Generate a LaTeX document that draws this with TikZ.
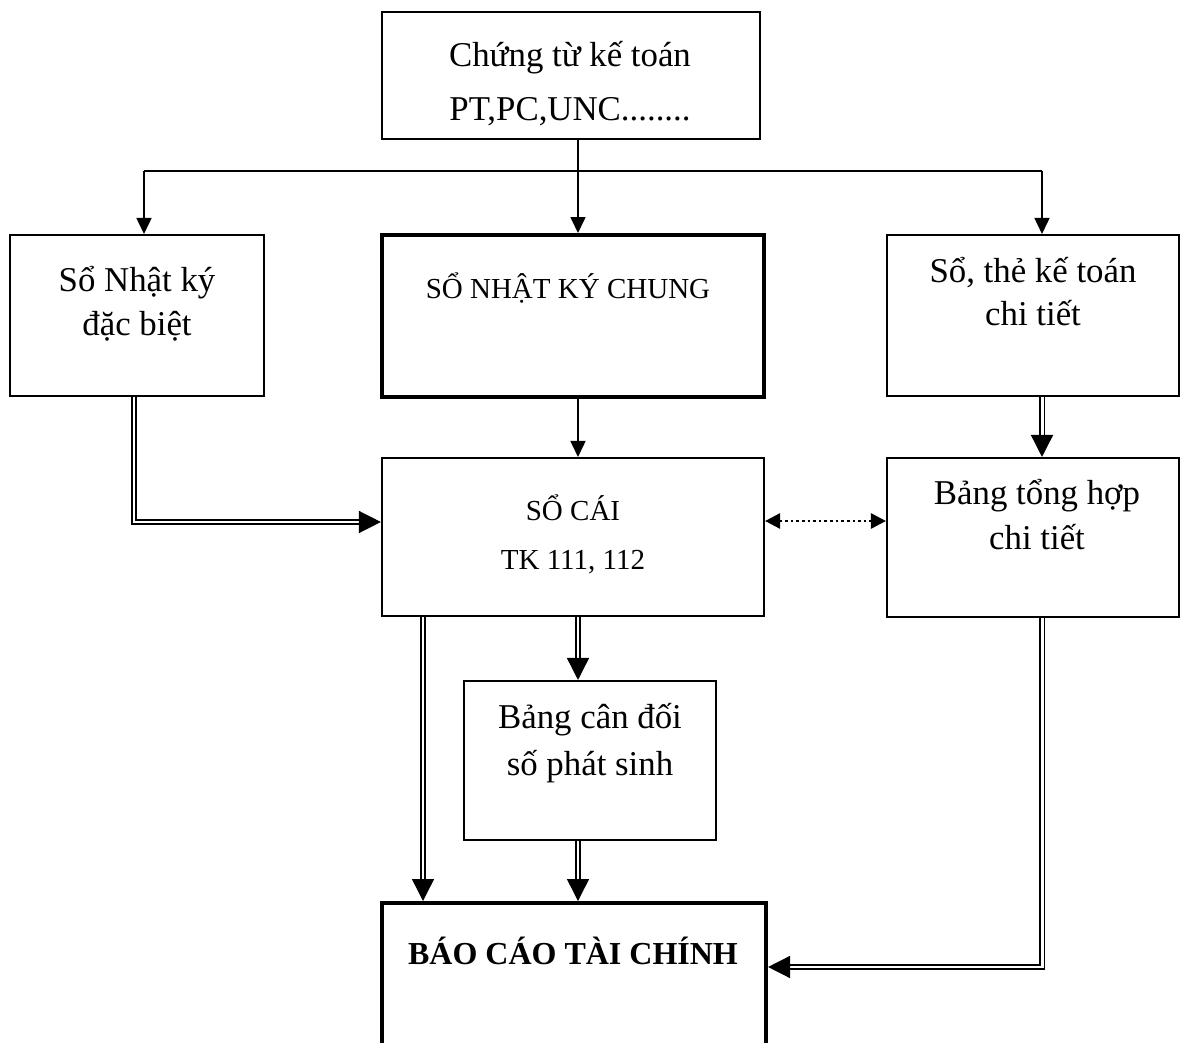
\documentclass[tikz,border=0pt]{standalone}
\usepackage{fontspec}
\setmainfont{Liberation Serif}
\usetikzlibrary{arrows.meta,calc}

\begin{document}
\begin{tikzpicture}[x=0.01cm, y=-0.01cm,
  box/.style={draw, line width=0.55pt, rectangle, inner sep=0pt},
  thickbox/.style={draw, line width=1.1pt, rectangle, inner sep=0pt},
  txt/.style={inner sep=0pt, align=center, font=\fontsize{9.9pt}{12pt}\selectfont},
  small/.style={inner sep=0pt, align=center, font=\fontsize{8.25pt}{10pt}\selectfont},
  conn/.style={line width=0.45pt},
  sarr/.style={line width=0.45pt, -{Triangle[length=0.16cm,width=0.15cm]}},
  dbl/.style={double, double distance=0.85pt, line width=0.45pt},
  dtip/.style={line width=0.4pt, -{Triangle[length=0.22cm,width=0.22cm]}},
  dotarr/.style={line width=0.75pt, dash pattern=on 0.75pt off 0.85pt, {Triangle[length=0.15cm,width=0.15cm]}-{Triangle[length=0.15cm,width=0.15cm]}}
]
\clip (0,0) rectangle (1181,1043);
\useasboundingbox (0,0) rectangle (1181,1043);

% boxes
\node[box, minimum width=3.78cm, minimum height=1.27cm] (ctu) at (571,75.5) {};
\node[box, minimum width=2.54cm, minimum height=1.61cm] (nkdb) at (137,315.5) {};
\node[thickbox, minimum width=3.82cm, minimum height=1.62cm] (nkc) at (573,316) {};
\node[box, minimum width=2.92cm, minimum height=1.61cm] (sct) at (1033,315.5) {};
\node[box, minimum width=3.82cm, minimum height=1.58cm] (socai) at (573,537) {};
\node[box, minimum width=2.92cm, minimum height=1.59cm] (bth) at (1033,537.5) {};
\node[box, minimum width=2.52cm, minimum height=1.59cm] (bcd) at (590,760.5) {};
\node[thickbox, minimum width=3.84cm, minimum height=1.60cm] (bctc) at (574,983) {};

% texts
\node[txt] (t1) at (570,58) {Chứng từ kế toán};
\node[txt] (t2) at (570,112) {PT,PC,UNC........};
\node[txt] (t3) at (137,283) {Sổ Nhật ký};
\node[txt] (t4) at (137,326) {đặc biệt};
\node[small] (t5) at (568,288) {SỔ NHẬT KÝ CHUNG};
\node[txt] (t6) at (1033,273) {Sổ, thẻ kế toán};
\node[txt] (t7) at (1033,313) {chi tiết};
\node[small] (t8) at (573,508) {SỔ CÁI};
\node[small] (t9) at (573,562) {TK 111, 112};
\node[txt] (t10) at (1037,496) {Bảng tổng hợp};
\node[txt] (t11) at (1037,537) {chi tiết};
\node[txt] (t12) at (590,720) {Bảng cân đối};
\node[txt] (t13) at (590,767) {số phát sinh};
\node[inner sep=0pt, font=\fontsize{9.1pt}{11pt}\selectfont\bfseries] (t14) at (573,951) {BÁO CÁO TÀI CHÍNH};

% distribution from the source documents
\coordinate (hm) at (578,171);
\coordinate (hl) at (144,171);
\coordinate (hr) at (1042,171);
\draw[conn] (ctu.south -| hm) -- (hm);
\draw[conn] (hl) -- (hr);
\draw[sarr] (hl) -- (hl |- nkdb.north);
\draw[sarr] (hm) -- (hm |- nkc.north);
\draw[sarr] (hr) -- (hr |- sct.north);

% journal to ledger
\draw[sarr] (nkc.south -| hm) -- (socai.north -| hm);

% special journal to ledger (double line)
\coordinate (lcorner) at (134,522);
\draw[dbl] (nkdb.south -| lcorner) -- (lcorner) -- ($(lcorner -| socai.west)+(-18,0)$);
\draw[dtip] ($(lcorner -| socai.west)+(-20,0)$) -- (lcorner -| socai.west);

% detailed books to summary
\coordinate (rx) at (1042,0);
\draw[dbl] (sct.south -| rx) -- ($(bth.north -| rx)+(0,-18)$);
\draw[dtip] ($(bth.north -| rx)+(0,-20)$) -- (bth.north -| rx);

% reconciliation ledger <-> summary
\coordinate (my) at (0,521);
\draw[dotarr] (socai.east |- my) -- (bth.west |- my);

% ledger to trial balance
\draw[dbl] (socai.south -| hm) -- ($(bcd.north -| hm)+(0,-18)$);
\draw[dtip] ($(bcd.north -| hm)+(0,-20)$) -- (bcd.north -| hm);

% ledger to financial statements
\coordinate (lx) at (423,0);
\draw[dbl] (socai.south -| lx) -- ($(bctc.north -| lx)+(0,-18)$);
\draw[dtip] ($(bctc.north -| lx)+(0,-20)$) -- (bctc.north -| lx);

% trial balance to financial statements
\draw[dbl] (bcd.south -| hm) -- ($(bctc.north -| hm)+(0,-18)$);
\draw[dtip] ($(bctc.north -| hm)+(0,-20)$) -- (bctc.north -| hm);

% summary to financial statements
\coordinate (rcorner) at (1042,967);
\draw[dbl] (bth.south -| rcorner) -- (rcorner) -- ($(rcorner -| bctc.east)+(18,0)$);
\draw[dtip] ($(rcorner -| bctc.east)+(20,0)$) -- (rcorner -| bctc.east);
\end{tikzpicture}
\end{document}
